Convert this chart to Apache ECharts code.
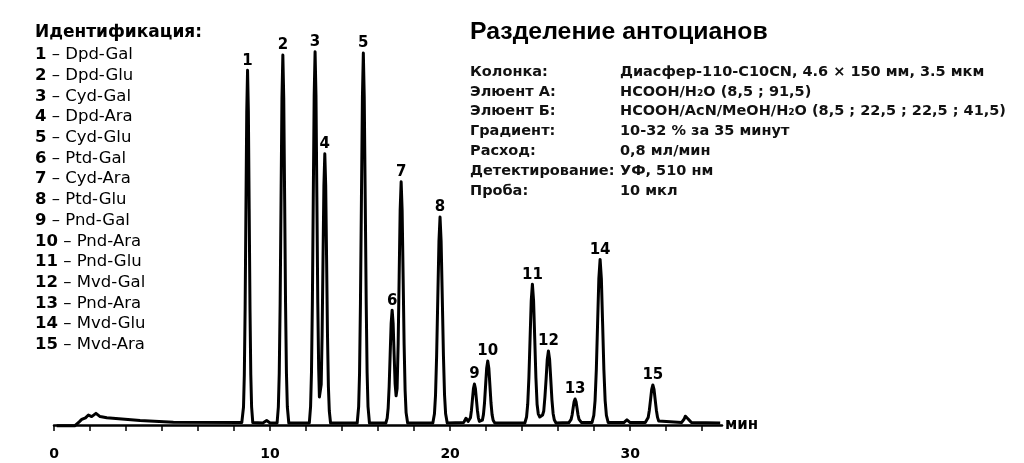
<!DOCTYPE html>
<html><head><meta charset="utf-8">
<script src="https://cdn.jsdelivr.net/npm/echarts@6/dist/echarts.min.js"></script>
<style>html,body{margin:0;padding:0;background:#fff}#c{width:1024px;height:463px}</style>
</head><body><div id="c"></div>
<script>
// Chromatogram trace (time in min, detector signal in arbitrary units)
const traceTime = [
 -1.85,-0.85,-0.6,-0.46,-0.25,-0.09,0.09,0.33,0.56,0.93,2.78,4.63,8.43,
 8.46,8.525,8.57,8.615,8.66,8.705,8.75,8.795,8.84,8.885,8.93,8.975,9.04,
 9.6,9.81,10.0,
 10.39,10.46,10.51,10.56,10.61,10.66,10.71,10.76,10.81,10.86,10.91,10.96,11.04,
 12.18,12.25,12.30,12.35,12.40,12.45,12.50,12.55,12.60,12.65,12.70,12.74,12.79,12.84,12.89,12.94,12.99,13.04,13.09,13.14,13.19,13.24,13.29,13.36,
 14.84,14.92,14.97,15.02,15.075,15.13,15.18,15.23,15.285,15.34,15.39,15.44,15.52,
 16.43,16.505,16.56,16.615,16.67,16.725,16.78,16.835,16.89,16.945,17.00,17.055,17.115,17.17,17.225,17.28,17.335,17.39,17.445,17.50,17.555,17.64,
 19.04,19.13,19.19,19.25,19.315,19.38,19.44,19.50,19.565,19.63,19.69,19.75,19.84,
 20.75,20.88,21.0,
 21.08,21.13,21.185,21.24,21.295,21.35,21.405,21.46,21.515,21.57,21.625,21.70,
 21.79,21.85,21.91,21.97,22.03,22.09,22.15,22.21,22.27,22.33,22.39,22.48,
 24.15,24.245,24.31,24.375,24.44,24.505,24.57,24.635,24.70,24.765,24.83,24.895,24.98,25.06,
 25.135,25.20,25.265,25.33,25.395,25.46,25.525,25.59,25.655,25.72,25.785,25.88,
 26.60,26.665,26.72,26.775,26.83,26.885,26.94,26.995,27.05,27.105,27.16,27.215,27.30,
 27.88,27.98,28.05,28.12,28.19,28.26,28.33,28.40,28.47,28.54,28.61,28.68,28.78,
 29.65,29.82,30.0,
 30.84,30.935,31.0,31.065,31.13,31.195,31.26,31.325,31.39,31.455,31.52,31.585,31.68,
 32.85,32.95,33.0,33.06,33.11,33.16,33.22,33.28,33.4,35.0
];
const traceSignal = [
 -0.2,-0.2,0.8,1.4,1.8,2.5,2.1,2.9,2.1,1.8,1.1,0.7,0.6,
 0.6,4.5,12.5,29.2,54.0,78.3,88.7,78.3,54.0,29.2,12.5,4.5,0.6,
 0.5,1.1,0.5,
 0.5,4.5,12.9,30.4,56.3,81.7,92.5,81.7,56.3,30.4,12.9,4.5,0.5,
 0.5,4.6,13.1,30.6,56.8,82.4,93.3,82.4,56.8,30.6,14.0,7.0,7.5,10.1,22.4,41.3,59.9,67.8,59.9,41.3,22.4,9.6,3.5,0.5,
 0.5,4.6,13.0,30.5,56.6,82.1,93.0,82.1,56.6,30.5,13.0,4.6,0.5,
 0.5,1.7,4.3,9.7,17.6,25.4,28.7,25.4,17.7,10.3,7.3,9.1,20.4,37.1,53.7,60.8,53.7,37.1,20.1,8.7,3.1,0.5,
 0.5,2.8,7.5,17.2,31.7,45.9,52.0,45.9,31.7,17.2,7.5,2.8,0.5,
 0.6,1.7,0.9,
 0.9,1.8,3.7,6.4,9.1,10.25,9.1,6.4,3.7,1.8,0.9,0.8,
 1.2,2.6,5.5,9.9,14.2,16.0,14.2,9.9,5.5,2.6,1.2,0.5,
 0.5,2.0,5.2,11.8,21.5,31.1,35.2,31.1,21.5,11.8,5.2,2.8,2.0,2.0,
 2.5,3.5,7.0,11.4,16.4,18.5,16.4,11.4,6.3,2.9,1.3,0.5,
 0.6,0.9,1.4,2.5,4.2,5.8,6.5,5.8,4.2,2.5,1.4,0.9,0.6,
 0.6,2.4,6.1,13.8,25.3,36.6,41.4,36.6,25.3,13.8,6.1,2.4,0.6,
 0.6,1.3,0.6,
 0.6,1.0,1.9,3.7,6.3,8.9,10.0,8.9,6.3,3.7,1.9,1.0,0.6,
 0.6,1.0,1.5,2.2,2.5,2.2,1.5,1.0,0.6,0.5
];
// Identified peaks
const peakNumbers = ['1','2','3','4','5','6','7','8','9','10','11','12','13','14','15'];
const peakTimes   = [8.75,10.71,12.50,13.04,15.18,16.78,17.28,19.44,21.35,22.09,24.57,25.46,26.94,28.33,31.26];
const peakHeights = [88.7,92.5,93.3,67.8,93.0,28.7,60.8,52.0,10.25,16.0,35.2,18.5,6.5,41.4,10.0];
const peakNames   = ['Dpd-Gal','Dpd-Glu','Cyd-Gal','Dpd-Ara','Cyd-Glu','Ptd-Gal','Cyd-Ara','Ptd-Glu','Pnd-Gal','Pnd-Ara','Pnd-Glu','Mvd-Gal','Pnd-Ara','Mvd-Glu','Mvd-Ara'];
// Axis tick labels as printed
const tickValues = [-2, 10, 20, 30];
const tickLabels = ['0', '10', '20', '30'];
// Conditions text
const condLabels = ['Колонка:','Элюент А:','Элюент Б:','Градиент:','Расход:','Детектирование:','Проба:'];
const condValues = ['Диасфер-110-C10CN, 4.6 × 150 мм, 3.5 мкм','HCOOH/H₂O (8,5 ; 91,5)','HCOOH/AcN/MeOH/H₂O (8,5 ; 22,5 ; 22,5 ; 41,5)','10-32 % за 35 минут','0,8 мл/мин','УФ, 510 нм','10 мкл'];

const chart = echarts.init(document.getElementById('c'), null, {renderer:'canvas'});
const line = traceTime.map((t,i)=>[t, traceSignal[i]]);
const peaks = peakTimes.map((t,i)=>({value:[t, peakHeights[i]], name:peakNumbers[i]}));

const graphics = [];
graphics.push({type:'text', x:35, y:33, style:{text:'Идентификация:', font:'bold 17px "DejaVu Sans"', fill:'#000', textVerticalAlign:'middle'}});
peakNumbers.forEach((n,i)=>{
  graphics.push({type:'text', x:35, y:55 + i*20.7, style:{
    text:'{b|'+n+'} – '+peakNames[i],
    font:'16.5px "DejaVu Sans"', fill:'#000', textVerticalAlign:'middle',
    rich:{b:{fontWeight:'bold', fontSize:16.5, fontFamily:'DejaVu Sans'}}
  }});
});
graphics.push({type:'text', x:470, y:32, style:{text:'Разделение антоцианов', font:'bold 24.8px "Liberation Sans"', fill:'#000', textVerticalAlign:'middle'}});
condLabels.forEach((l,i)=>{
  const y = 72 + i*19.8;
  graphics.push({type:'text', x:470, y:y, style:{text:l, font:'bold 14.5px "DejaVu Sans"', fill:'#111', textVerticalAlign:'middle'}});
  graphics.push({type:'text', x:620, y:y, style:{text:condValues[i], font:'bold 14.5px "DejaVu Sans"', fill:'#111', textVerticalAlign:'middle'}});
});

chart.setOption({
  animation:false,
  backgroundColor:'#fff',
  grid:{left:54, right:302, top:40, bottom:26},
  xAxis:{
    type:'value', min:-2, max:35.1, interval:2,
    axisLine:{lineStyle:{color:'#000', width:2.5}},
    axisTick:{length:6, lineStyle:{color:'#000', width:1.5}},
    splitLine:{show:false},
    axisLabel:{showMinLabel:true, showMaxLabel:false, color:'#000', fontSize:14, fontWeight:'bold', fontFamily:'DejaVu Sans', margin:10,
      formatter:(v)=>{const i=tickValues.indexOf(Math.round(v*100)/100); return i>=0?tickLabels[i]:'';}},
    name:'мин', nameLocation:'end', nameGap:3,
    nameTextStyle:{color:'#000', fontSize:15, fontWeight:'bold', fontFamily:'DejaVu Sans', verticalAlign:'middle'}
  },
  yAxis:{type:'value', min:-3, max:96.25, show:false},
  series:[
    {type:'line', data:line, smooth:false, symbol:'none',
     lineStyle:{color:'#000', width:3, join:'round'}, z:3},
    {type:'scatter', data:peaks, symbolSize:0, itemStyle:{opacity:1},
     label:{show:true, position:'top', distance:2, formatter:(p)=>p.name, opacity:1,
       color:'#000', fontSize:15, fontWeight:'bold', fontFamily:'DejaVu Sans'}, z:4}
  ],
  graphic:graphics
});
</script></body></html>
